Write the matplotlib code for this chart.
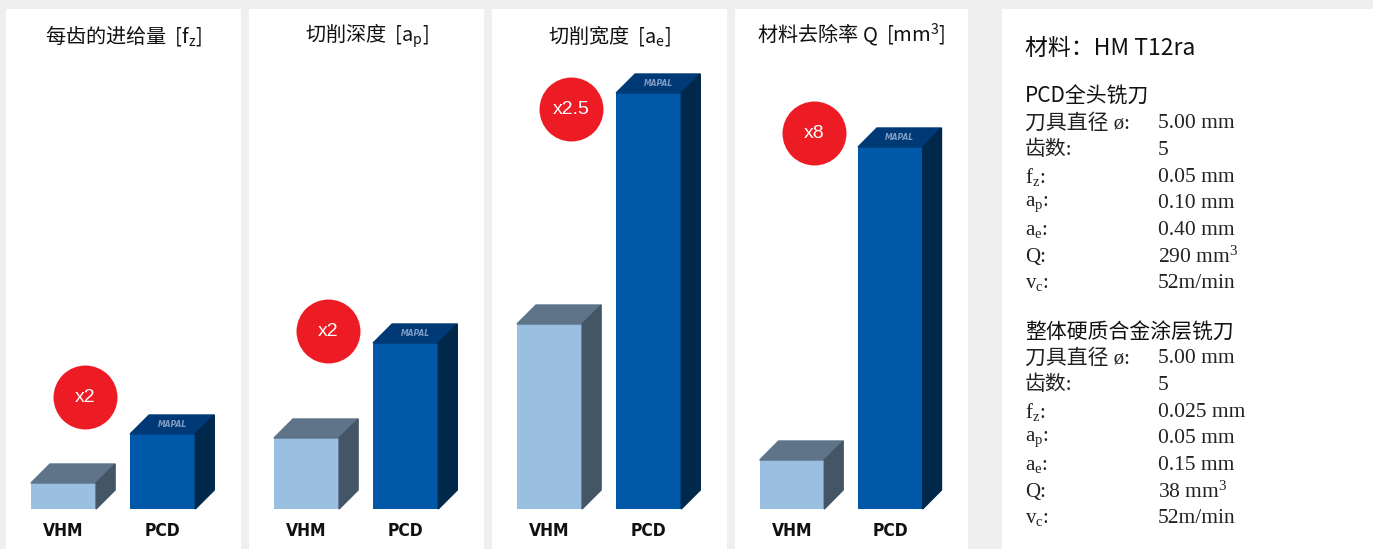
import matplotlib
matplotlib.use("Agg")
import matplotlib.pyplot as plt
from matplotlib.patches import Polygon

plt.rcParams['font.family'] = ['Noto Sans CJK SC', 'DejaVu Sans']
plt.rcParams['mathtext.default'] = 'regular'

# ## Data
##############################

titles = ['每齿的进给量  [f$_z$]', '切削深度  [a$_p$]', '切削宽度  [a$_e$]', '材料去除率 Q  [mm$^3$]']
tools = ['VHM', 'PCD']
# bar heights as they appear (relative units)
vhm_heights = [26, 71, 185, 49]
pcd_heights = [75, 166, 416, 362]
factors = ['x2', 'x2', 'x2.5', 'x8']

material = '材料：HM T12ra'
pcd_name = 'PCD全头铣刀'
vhm_name = '整体硬质合金涂层铣刀'
spec_labels = ['刀具直径 ø:', '齿数:', 'f$_z$:', 'a$_p$:', 'a$_e$:', 'Q:', 'v$_c$:']
pcd_values = ['5.00 mm', '5', '0.05 mm', '0.10 mm', '0.40 mm', '290 mm$^3$', '52m/min']
vhm_values = ['5.00 mm', '5', '0.025 mm', '0.05 mm', '0.15 mm', '38 mm$^3$', '52m/min']

# ## Styling
###########

W, H = 1373, 549
bg = '#efefef'
vhm_cols = ('#9bbfe0', '#5f7489', '#445566')   # front, top, side
pcd_cols = ('#0058a8', '#003a76', '#00284b')
red = '#ed1c24'
panels_x = [(6, 241), (249, 484), (492, 727), (735, 968)]
panel_top = 9
xlim = (-0.58, 1.79)
ylim = (-40, 500)
bar_w = 0.657
dx, dy = 19 / 99., 19          # depth of the 3D boxes
circle_y = [112, 178, 400, 376]

fig = plt.figure(figsize=(W / 100, H / 100), dpi=100)
fig.patch.set_facecolor(bg)

def box(ax, x, h, cols):
    x0, x1 = x - bar_w / 2, x + bar_w / 2
    ax.bar(x, h, width=bar_w, bottom=0, color=cols[0], zorder=2)
    ax.add_patch(Polygon([(x0, h), (x1, h), (x1 + dx, h + dy), (x0 + dx, h + dy)],
                         closed=True, color=cols[1], zorder=2))
    ax.add_patch(Polygon([(x1, 0), (x1 + dx, dy), (x1 + dx, h + dy), (x1, h)],
                         closed=True, color=cols[2], zorder=2))

for i, (l, r) in enumerate(panels_x):
    ax = fig.add_axes([l / W, 0, (r - l) / W, (H - panel_top) / H])
    ax.set_facecolor('white')
    ax.set_xlim(*xlim)
    ax.set_ylim(*ylim)
    for s in ax.spines.values():
        s.set_visible(False)
    ax.set_xticks([])
    ax.set_yticks([])

    box(ax, 0, vhm_heights[i], vhm_cols)
    box(ax, 1, pcd_heights[i], pcd_cols)
    # logo on top of the PCD box
    ax.text(1 + dx / 2, pcd_heights[i] + dy / 2, 'MAPAL', color='#7f9cc4',
            fontsize=5.5, fontstyle='italic', fontweight='bold',
            family=['DejaVu Sans'], ha='center', va='center', zorder=3)

    for x, name in zip([0, 1], tools):
        ax.text(x, -22, name, ha='center', va='center', fontsize=12.5,
                fontweight='bold', fontstretch='condensed',
                family=['DejaVu Sans'], color='#111111')

    ax.text(sum(xlim) / 2, 474, titles[i], ha='center', va='center',
            fontsize=14.5, color='#111111')

    ax.scatter([0.22], [circle_y[i]], s=2120, color=red, zorder=4, linewidths=0)
    ax.text(0.22, circle_y[i], factors[i], color='white', ha='center', va='center',
            fontsize=14, family=['Liberation Sans', 'DejaVu Sans'], zorder=5)

# ## Info panel
##############

ax = fig.add_axes([1002 / W, 0, (W - 1002) / W, (H - panel_top) / H])
ax.set_facecolor('white')
ax.set_xlim(1002, W)
ax.set_ylim(H, panel_top)
for s in ax.spines.values():
    s.set_visible(False)
ax.set_xticks([])
ax.set_yticks([])

ax.text(1025, 48, material, fontsize=16.5, va='center', color='#111111')
serif = ['Liberation Serif', 'Noto Sans CJK SC']
for name, vals, y0 in [(pcd_name, pcd_values, 97), (vhm_name, vhm_values, 332)]:
    ax.text(1025, y0, name, fontsize=15, va='center', fontweight='medium', color='#111111')
    for j, (lab, val) in enumerate(zip(spec_labels, vals)):
        y = y0 + 26.7 * (j + 1)
        ax.text(1025, y, lab, fontsize=15, va='center', family=serif, color='#222222')
        ax.text(1158, y, val, fontsize=15.5, va='center', family=serif, color='#222222')

fig.savefig('out.png', dpi=100, facecolor=bg)
